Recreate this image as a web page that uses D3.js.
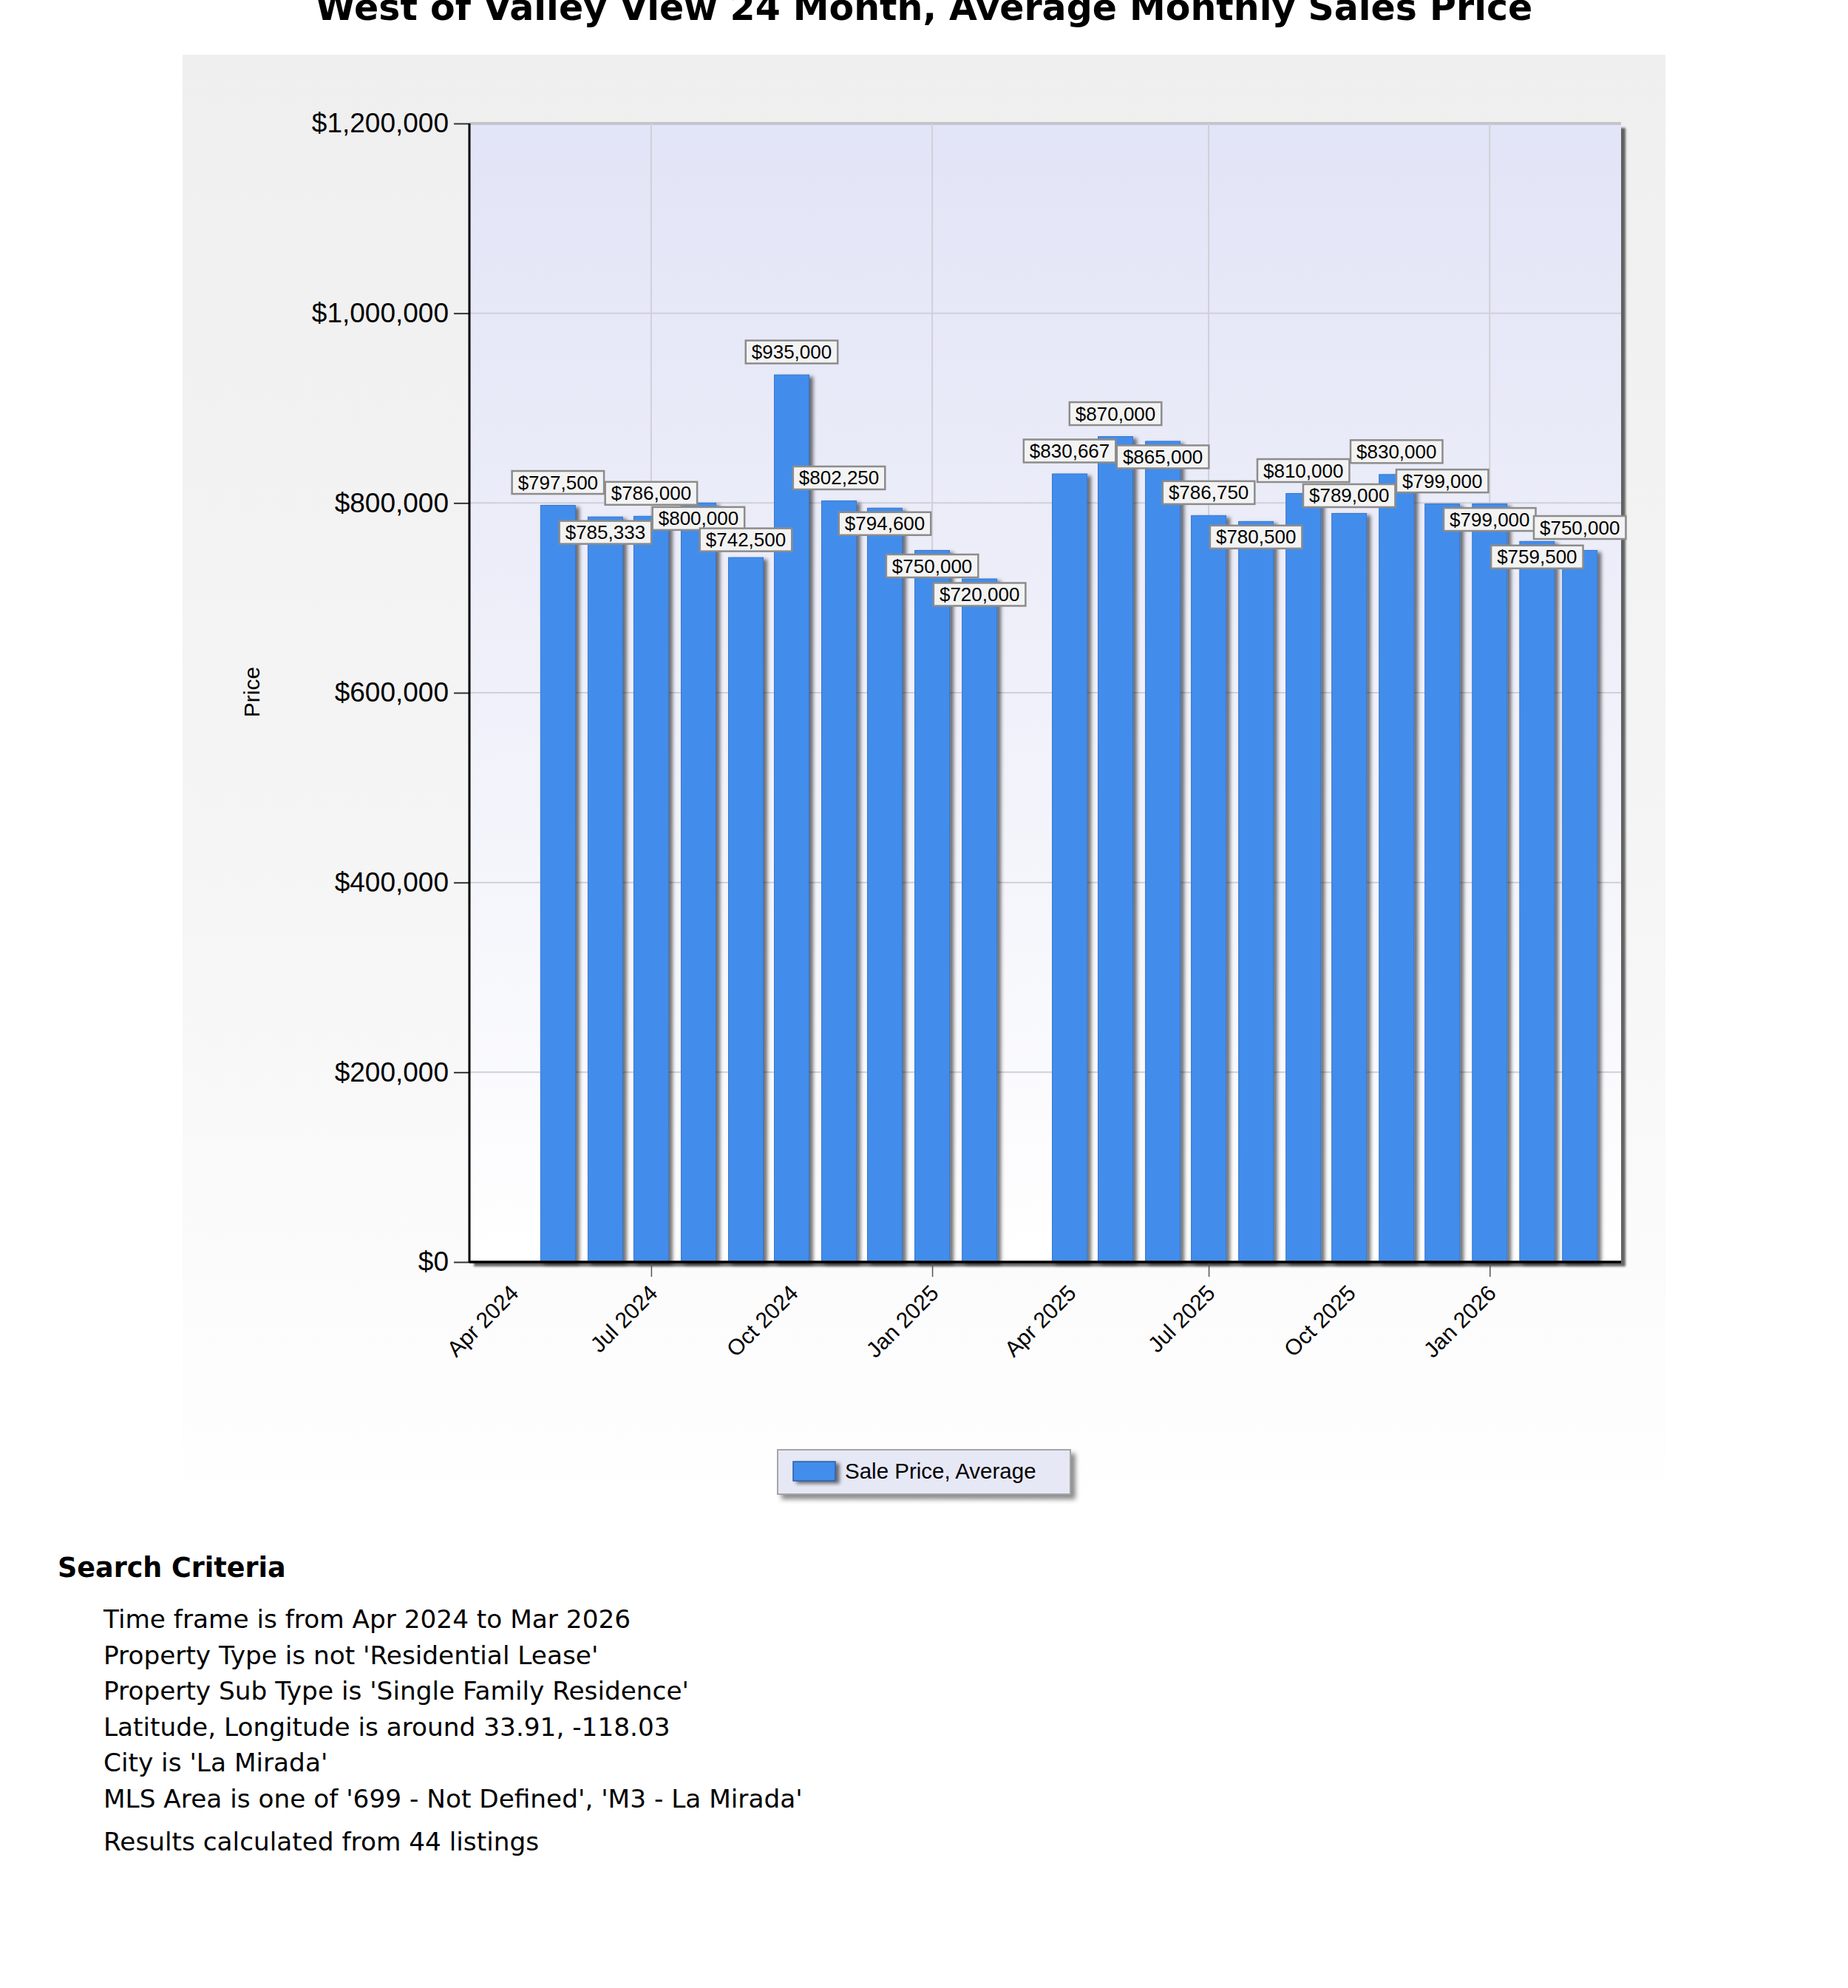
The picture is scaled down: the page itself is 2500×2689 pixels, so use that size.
<!DOCTYPE html>
<html>
<head>
  <script src="https://d3js.org/d3.v7.min.js"></script>
  <style>
    body { margin: 0; background: #fff; }
    .chart-text { font-family: "Liberation Sans", Arial, sans-serif; }
    .page-text { font-family: "DejaVu Sans", Verdana, sans-serif; }
  </style>
</head>
<body>
  <svg width="2500" height="2689"></svg>
  <script>
    const width = 2500, height = 2689;

    // one slot per month, null = no sales that month
    const months = ["2024-04", "2024-05", "2024-06", "2024-07", "2024-08", "2024-09",
                    "2024-10", "2024-11", "2024-12", "2025-01", "2025-02", "2025-03",
                    "2025-04", "2025-05", "2025-06", "2025-07", "2025-08", "2025-09",
                    "2025-10", "2025-11", "2025-12", "2026-01", "2026-02"];
    const prices = [797500, 785333, 786000, 800000, 742500, 935000,
                    802250, 794600, 750000, 720000, null, 830667,
                    870000, 865000, 786750, 780500, 810000, 789000,
                    830000, 799000, 799000, 759500, 750000];
    const yTicks = [0, 200000, 400000, 600000, 800000, 1000000, 1200000];
    const seriesName = "Sale Price, Average";
    const title = "West of Valley View 24 Month, Average Monthly Sales Price";
    const criteria = [
      "Time frame is from Apr 2024 to Mar 2026",
      "Property Type is not 'Residential Lease'",
      "Property Sub Type is 'Single Family Residence'",
      "Latitude, Longitude is around 33.91, -118.03",
      "City is 'La Mirada'",
      "MLS Area is one of '699 - Not Defined', 'M3 - La Mirada'"
    ];
    const resultsNote = "Results calculated from 44 listings";

    // where each value box sits relative to its bar top (layout only)
    const labelSide = ["up", "down", "up", "down", "mid", "up", "up", "down", "down", "down", null, "up",
                       "up", "down", "up", "down", "up", "mid", "up", "up", "down", "down", "up"];
    const sideDy = { up: -31, down: 21, mid: -24 };

    const parseMonth = d3.timeParse("%Y-%m");
    const data = months.map((m, i) => ({ month: parseMonth(m), value: prices[i], side: labelSide[i] }))
      .filter(d => d.value != null);

    const plot = { left: 635, right: 2193, top: 167, bottom: 1707 };
    const barColor = "#428deb";

    const svg = d3.select("svg");
    const defs = svg.append("defs");

    const panelGrad = defs.append("linearGradient").attr("id", "panelGrad")
      .attr("x1", 0).attr("y1", 0).attr("x2", 0).attr("y2", 1);
    panelGrad.append("stop").attr("offset", 0).attr("stop-color", "#efefef");
    panelGrad.append("stop").attr("offset", 0.55).attr("stop-color", "#f5f5f5");
    panelGrad.append("stop").attr("offset", 1).attr("stop-color", "#ffffff");

    const plotGrad = defs.append("linearGradient").attr("id", "plotGrad")
      .attr("x1", 0).attr("y1", 0).attr("x2", 0).attr("y2", 1);
    plotGrad.append("stop").attr("offset", 0).attr("stop-color", "#e2e4f7");
    plotGrad.append("stop").attr("offset", 0.45).attr("stop-color", "#eeeff9");
    plotGrad.append("stop").attr("offset", 1).attr("stop-color", "#ffffff");

    function shadow(id, dx, dy, sd, op) {
      defs.append("filter").attr("id", id)
        .attr("x", "-20%").attr("y", "-20%").attr("width", "150%").attr("height", "150%")
        .append("feDropShadow")
        .attr("dx", dx).attr("dy", dy).attr("stdDeviation", sd)
        .attr("flood-color", "#000").attr("flood-opacity", op);
    }
    shadow("barShadow", 5, 3, 2.5, 0.55);
    shadow("plotShadow", 6, 6, 1.5, 0.6);
    shadow("legendShadow", 6, 6, 3, 0.45);

    // chart panel
    svg.append("rect")
      .attr("x", 247).attr("y", 74).attr("width", 2006).attr("height", 1990)
      .attr("fill", "url(#panelGrad)");

    svg.append("text")
      .attr("class", "page-text")
      .attr("x", 1250).attr("y", 27)
      .attr("text-anchor", "middle")
      .attr("font-size", 49).attr("font-weight", "bold")
      .text(title);

    const x = d3.scaleTime()
      .domain([new Date(2024, 2, 4), new Date(2026, 2, 28)])
      .range([plot.left, plot.right]);
    const y = d3.scaleLinear()
      .domain([0, 1200000])
      .range([plot.bottom, plot.top]);

    svg.append("rect")
      .attr("x", plot.left).attr("y", plot.top)
      .attr("width", plot.right - plot.left).attr("height", plot.bottom - plot.top)
      .attr("fill", "url(#plotGrad)")
      .attr("filter", "url(#plotShadow)");

    const majorMonths = d3.timeMonth.every(6).range(x.domain()[0], x.domain()[1]);
    const labelMonths = d3.timeMonth.every(3).range(x.domain()[0], x.domain()[1]);

    // grid
    svg.append("g").selectAll("line")
      .data(yTicks)
      .enter().append("line")
      .attr("x1", plot.left).attr("x2", plot.right)
      .attr("y1", d => y(d)).attr("y2", d => y(d))
      .attr("stroke", d => d === 1200000 ? "#c4c5cc" : "#cfd0d8")
      .attr("stroke-width", d => d === 1200000 ? 4 : 2);

    svg.append("g").selectAll("line")
      .data(majorMonths)
      .enter().append("line")
      .attr("x1", d => x(d)).attr("x2", d => x(d))
      .attr("y1", plot.top).attr("y2", plot.bottom)
      .attr("stroke", "#cfd0d8").attr("stroke-width", 2);

    // bars, centred on the end of their month
    const barWidth = 47;
    const barX = d => x(d3.timeMonth.offset(d.month, 1));

    svg.append("g").selectAll("rect")
      .data(data)
      .enter().append("rect")
      .attr("x", d => barX(d) - barWidth / 2)
      .attr("y", d => y(d.value))
      .attr("width", barWidth)
      .attr("height", d => y(0) - y(d.value))
      .attr("fill", barColor)
      .attr("stroke", "#3676cf").attr("stroke-width", 1)
      .attr("filter", "url(#barShadow)");

    // y axis
    const yAxis = svg.append("g")
      .attr("class", "chart-text")
      .attr("transform", `translate(${plot.left},0)`)
      .call(d3.axisLeft(y).tickValues(yTicks).tickSize(21).tickPadding(7)
        .tickFormat(d => "$" + d3.format(",")(d)));
    yAxis.select(".domain").remove();
    yAxis.selectAll(".tick line").attr("stroke", "#333").attr("stroke-width", 2);
    yAxis.selectAll(".tick text").attr("font-size", 37).attr("fill", "#000")
      .attr("font-family", "Liberation Sans, Arial, sans-serif");

    // x axis: tick marks every 6 months, labels every 3 months
    const xMajor = svg.append("g")
      .attr("transform", `translate(0,${plot.bottom})`)
      .call(d3.axisBottom(x).tickValues(majorMonths).tickSize(20).tickFormat(""));
    xMajor.select(".domain").remove();
    xMajor.selectAll(".tick line").attr("stroke", "#555").attr("stroke-width", 1.5);

    const xLabels = svg.append("g")
      .attr("transform", `translate(0,${plot.bottom})`)
      .call(d3.axisBottom(x).tickValues(labelMonths).tickSize(0).tickFormat(d3.timeFormat("%b %Y")));
    xLabels.select(".domain").remove();
    xLabels.selectAll(".tick text")
      .attr("font-family", "Liberation Sans, Arial, sans-serif")
      .attr("font-size", 30).attr("fill", "#000")
      .attr("text-anchor", "end")
      .attr("x", 0).attr("y", 0).attr("dy", 0)
      .attr("transform", "translate(10,44) rotate(-45)");

    // axis lines
    svg.append("line")
      .attr("x1", plot.left).attr("x2", plot.left)
      .attr("y1", plot.top).attr("y2", plot.bottom + 1)
      .attr("stroke", "#000").attr("stroke-width", 3);
    svg.append("line")
      .attr("x1", plot.left).attr("x2", plot.right)
      .attr("y1", plot.bottom).attr("y2", plot.bottom)
      .attr("stroke", "#000").attr("stroke-width", 3.5);

    svg.append("text")
      .attr("class", "chart-text")
      .attr("transform", "translate(351,936) rotate(-90)")
      .attr("text-anchor", "middle")
      .attr("font-size", 30)
      .text("Price");

    // value boxes
    const fmt = d => "$" + d3.format(",")(d);
    const labels = svg.append("g").attr("class", "chart-text")
      .selectAll("g")
      .data(data)
      .enter().append("g")
      .attr("transform", d => `translate(${barX(d)},${y(d.value) + sideDy[d.side]})`);
    labels.each(function (d) {
      const g = d3.select(this);
      const t = g.append("text")
        .attr("text-anchor", "middle")
        .attr("y", 9)
        .attr("font-size", 26)
        .text(fmt(d.value));
      const w = t.node().getComputedTextLength() + 16;
      g.insert("rect", "text")
        .attr("x", -w / 2).attr("y", -15.5)
        .attr("width", w).attr("height", 31)
        .attr("fill", "#f3f3f3")
        .attr("stroke", "#8c8c8c").attr("stroke-width", 2.5);
    });

    // legend
    const legend = svg.append("g").attr("class", "chart-text");
    legend.append("rect")
      .attr("x", 1052).attr("y", 1961).attr("width", 396).attr("height", 60)
      .attr("fill", "#e7e8f6").attr("stroke", "#a5a5a5").attr("stroke-width", 2)
      .attr("filter", "url(#legendShadow)");
    legend.append("rect")
      .attr("x", 1073).attr("y", 1977).attr("width", 57).attr("height", 26)
      .attr("fill", barColor).attr("stroke", "#2f5f9f").attr("stroke-width", 1.5)
      .attr("filter", "url(#barShadow)");
    legend.append("text")
      .attr("x", 1143).attr("y", 2000)
      .attr("font-size", 29.5)
      .text(seriesName);

    // search criteria block
    const crit = svg.append("g").attr("class", "page-text");
    crit.append("text")
      .attr("x", 78).attr("y", 2133)
      .attr("font-size", 36.5).attr("font-weight", "bold")
      .text("Search Criteria");
    crit.selectAll("text.line")
      .data(criteria)
      .enter().append("text")
      .attr("class", "line")
      .attr("x", 140)
      .attr("y", (d, i) => 2202 + i * 48.5)
      .attr("font-size", 34.3)
      .text(d => d);
    crit.append("text")
      .attr("x", 140).attr("y", 2503)
      .attr("font-size", 34.3)
      .text(resultsNote);
  </script>
</body>
</html>
